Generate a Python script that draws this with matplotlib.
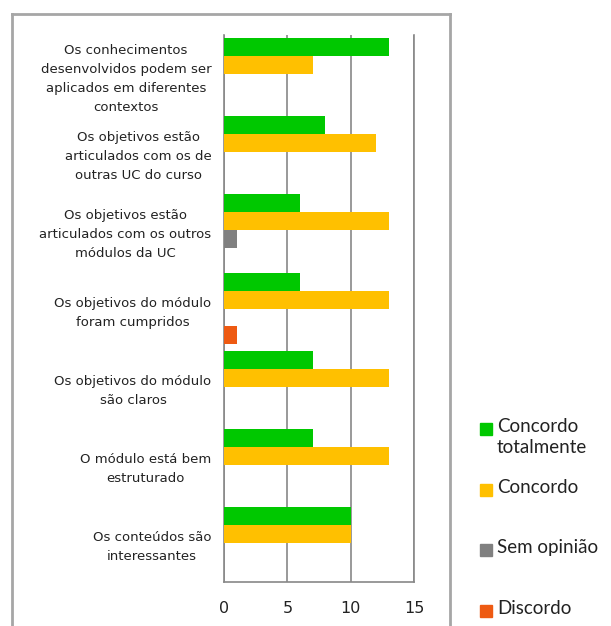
import numpy as np
import matplotlib
matplotlib.use('Agg')
import matplotlib.pyplot as plt
from matplotlib.patches import Rectangle
from matplotlib.lines import Line2D

categories = ['Os conhecimentos\ndesenvolvidos podem ser\naplicados em diferentes\ncontextos',
              'Os objetivos estão\narticulados com os de\noutras UC do curso',
              'Os objetivos estão\narticulados com os outros\nmódulos da UC',
              'Os objetivos do módulo\nforam cumpridos',
              'Os objetivos do módulo\nsão claros',
              'O módulo está bem\nestruturado',
              'Os conteúdos são\ninteressantes']
series_names = ['Concordo\ntotalmente', 'Concordo', 'Sem opinião', 'Discordo']
concordo_tot = [13, 8, 6, 6, 7, 7, 10]
concordo = [7, 12, 13, 13, 13, 13, 10]
sem_opiniao = [0, 0, 1, 0, 0, 0, 0]
discordo = [0, 0, 0, 1, 0, 0, 0]
colors = ['#00C800', '#FFC000', '#808080', '#EE5A12']
values = [concordo_tot, concordo, sem_opiniao, discordo]

fig = plt.figure(figsize=(6.11, 6.26), dpi=100)
ax = fig.add_axes([224/611, 44/626, 190/611, 547/626])

y = np.arange(len(categories))
h = 0.23
offsets = [-1.5*h, -0.5*h, 0.5*h, 1.5*h]
for vals, c, off in zip(values, colors, offsets):
    ax.barh(y + off, vals, height=h, color=c, zorder=3)

ax.set_xlim(0, 15)
ax.set_ylim(len(categories) - 0.5, -0.5)
ax.set_xticks([0, 5, 10, 15])
ax.set_yticks(y)
ax.set_yticklabels(categories, multialignment='center', fontsize=9.5,
                   color='#222222', linespacing=1.6)
ax.tick_params(axis='y', length=0, pad=9)
ax.tick_params(axis='x', length=0, pad=14, labelsize=11.5, colors='#222222')
ax.grid(axis='x', color='#888888', linewidth=1.2, zorder=0)
for s in ['left', 'bottom', 'right']:
    ax.spines[s].set_color('#888888')
    ax.spines[s].set_linewidth(1.2)
ax.spines['top'].set_visible(False)

# manual legend on the right
leg_y = [429, 490, 550, 611]
for name, c, yy in zip(series_names, colors, leg_y):
    fig.patches.append(Rectangle((480/611, 1 - (yy + 6)/626), 12/611, 12/626,
                                 transform=fig.transFigure, color=c))
    fig.text(497/611, 1 - (yy - 11)/626, name, fontsize=13.5, family='Lato',
             va='top', ha='left', color='#222222', linespacing=1.3)

# chart area border
bc = '#A6A6A6'
fig.add_artist(Line2D([12/611, 12/611], [0, 1 - 14/626], transform=fig.transFigure, color=bc, lw=2))
fig.add_artist(Line2D([12/611, 450/611], [1 - 14/626, 1 - 14/626], transform=fig.transFigure, color=bc, lw=2))
fig.add_artist(Line2D([450/611, 450/611], [0, 1 - 14/626], transform=fig.transFigure, color=bc, lw=2))

fig.savefig('out.png', dpi=100)
